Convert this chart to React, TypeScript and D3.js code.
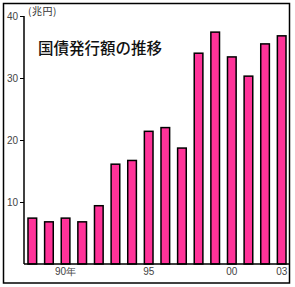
import React, { useEffect, useRef } from 'react';
import * as d3 from 'd3';

const years = ['88', '89', '90', '91', '92', '93', '94', '95', '96', '97', '98', '99', '00', '01', '02', '03'];
const issuance = [7.4, 6.8, 7.4, 6.8, 9.4, 16.1, 16.7, 21.4, 22.0, 18.7, 34.0, 37.4, 33.4, 30.3, 35.5, 36.8];
const yTicks = [10, 20, 30, 40];
const xLabels: Record<string, string> = { '90': '90年', '95': '95', '00': '00', '03': '03' };

const App = () => {
  const chartRef = useRef<SVGSVGElement>(null);

  useEffect(() => {
    const width = 295;
    const height = 287;
    const marginLeft = 24;
    const right = 290;
    const top = 16;
    const bottom = 264;

    const svg = d3.select(chartRef.current);
    svg.selectAll('*').remove();

    const x = d3.scaleBand()
      .domain(years)
      .range([marginLeft, right])
      .paddingInner(0.48)
      .paddingOuter(0.24);

    const y = d3.scaleLinear()
      .domain([0, 40])
      .range([bottom, top]);

    svg.append('rect')
      .attr('x', 3.5).attr('y', 3.5)
      .attr('width', 286).attr('height', 279.5)
      .attr('fill', 'white')
      .attr('stroke', 'black')
      .attr('stroke-width', 1.5);

    svg.append('g')
      .selectAll('rect')
      .data(issuance)
      .join('rect')
        .attr('x', (d, i) => x(years[i])!)
        .attr('y', d => y(d))
        .attr('width', x.bandwidth())
        .attr('height', d => y(0) - y(d))
        .attr('fill', '#ff3399')
        .attr('stroke', 'black')
        .attr('stroke-width', 1.5);

    // y axis
    const yAxis = svg.append('g')
      .attr('transform', `translate(${marginLeft},0)`)
      .call(d3.axisLeft(y).tickValues(yTicks).tickSize(4).tickSizeOuter(0).tickPadding(2));
    yAxis.select('.domain').remove();
    yAxis.selectAll('.tick line').attr('stroke', 'black');
    yAxis.selectAll('.tick text')
      .attr('fill', '#444')
      .attr('font-size', 10)
      .attr('font-family', 'Liberation Sans, Arial, sans-serif');

    svg.append('line')
      .attr('x1', marginLeft).attr('x2', marginLeft)
      .attr('y1', y(40)).attr('y2', bottom)
      .attr('stroke', 'black').attr('stroke-width', 1.5);

    // x axis
    const xAxis = svg.append('g')
      .attr('transform', `translate(0,${bottom})`)
      .call(d3.axisBottom(x)
        .tickValues(Object.keys(xLabels))
        .tickFormat(d => xLabels[d])
        .tickSize(0)
        .tickPadding(4));
    xAxis.select('.domain').remove();
    xAxis.selectAll('.tick text')
      .attr('fill', '#444')
      .attr('font-size', 10)
      .attr('font-family', 'Liberation Sans, Arial, sans-serif');

    svg.append('line')
      .attr('x1', marginLeft).attr('x2', right)
      .attr('y1', bottom).attr('y2', bottom)
      .attr('stroke', 'black').attr('stroke-width', 1.5);

    svg.append('text')
      .attr('x', 28).attr('y', 15)
      .attr('font-size', 10)
      .attr('letter-spacing', 0.5)
      .attr('fill', '#333')
      .attr('font-family', 'Noto Sans CJK JP, sans-serif')
      .text('(兆円)');

    svg.append('text')
      .attr('x', 38).attr('y', 54)
      .attr('font-size', 15.5)
      .attr('font-weight', 500)
      .attr('fill', '#111')
      .attr('font-family', 'Noto Sans CJK JP, sans-serif')
      .text('国債発行額の推移');

    svg.attr('width', width).attr('height', height);
  }, []);

  return (
    <svg ref={chartRef} style={{ position: 'absolute', left: 0, top: 0 }}></svg>
  );
};

export default App;
